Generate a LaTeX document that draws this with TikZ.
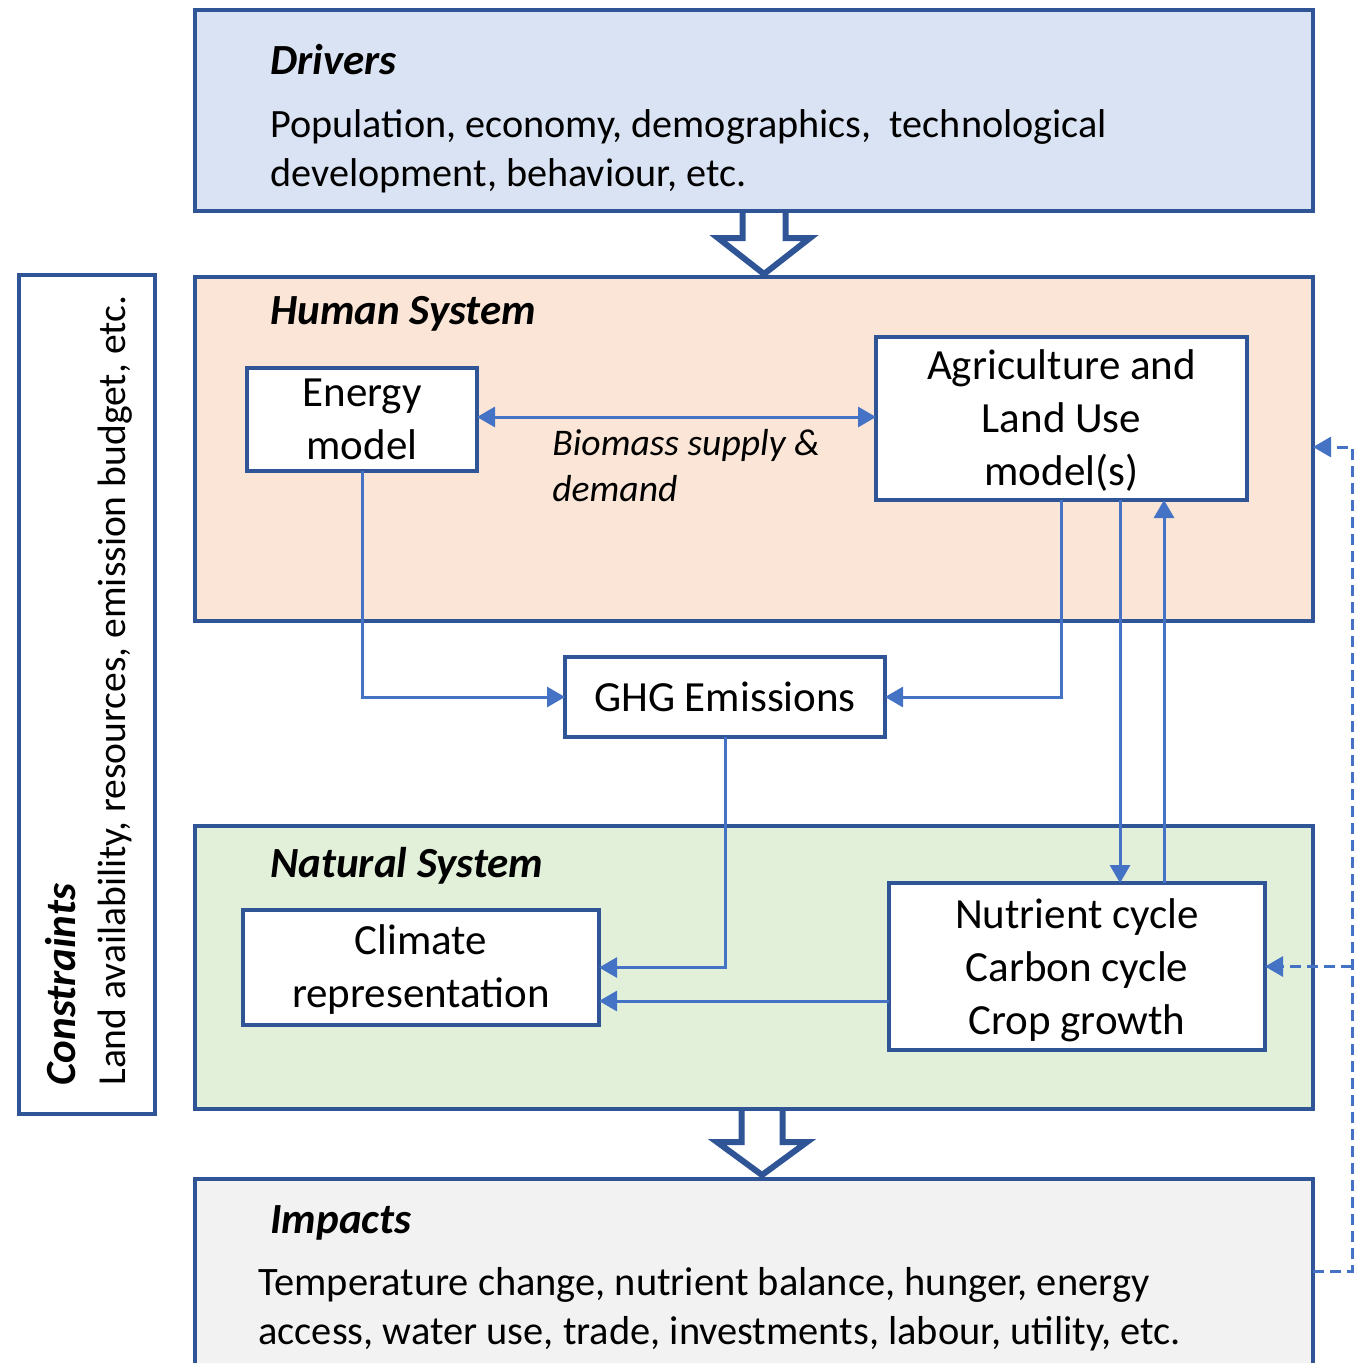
\documentclass[tikz,border=0pt]{standalone}
\usepackage{fontspec}
\setmainfont{Carlito}
\usetikzlibrary{arrows.meta}

\definecolor{frame}{HTML}{2F5597}
\definecolor{link}{HTML}{4472C4}
\definecolor{drvfill}{HTML}{DAE3F3}
\definecolor{humfill}{HTML}{FBE5D6}
\definecolor{natfill}{HTML}{E2F0D9}
\definecolor{impfill}{HTML}{F2F2F2}

% lower the text lines of a model box a little, keeping its size
\newcommand{\lowered}[2]{\raisebox{-#1}[\height][\depth]{\begin{tabular}{@{}c@{}}#2\end{tabular}}}

\begin{document}
\begin{tikzpicture}[x=0.5pt,y=-0.5pt,
  panel/.style={draw=frame, line width=2pt, anchor=north west, inner sep=0pt, outer sep=0pt},
  model/.style={draw=frame, line width=1.75pt, fill=white, align=center, inner sep=0pt, outer sep=0pt,
                font=\fontsize{21.5}{26.5}\selectfont},
  heading/.style={anchor=base west, inner sep=0pt, font=\fontsize{21.5}{26}\selectfont\bfseries\itshape},
  body/.style={anchor=base west, inner sep=0pt, align=left, font=\fontsize{20.2}{24.5}\selectfont},
  conn/.style={draw=link, line width=1.5pt, -{Triangle[length=9pt,width=10pt]}},
  feedback/.style={conn, dash pattern=on 5.5pt off 3pt},
  blockarrow/.style={draw=frame, fill=white, line width=3pt, line join=miter}
]
\clip (0,0) rectangle (1368,1362);

% system panels
\node[panel, fill=drvfill, minimum width=559pt, minimum height=100.5pt] (drivers) at (195,10) {};
\node[panel, fill=humfill, minimum width=559pt, minimum height=172pt] (human) at (195,277) {};
\node[panel, fill=natfill, minimum width=559pt, minimum height=141.5pt] (natural) at (195,826) {};
\node[panel, fill=impfill, minimum width=559pt, minimum height=130pt] (impacts) at (195,1179) {};
\node[panel, fill=white, minimum width=68pt, minimum height=419.5pt] (constraints) at (19,275) {};

% panel titles and texts (multi-line texts are placed by their last baseline)
\node[heading] (drvtitle) at (270,74) {Drivers};
\node[body, font=\fontsize{20.1}{24.5}\selectfont] (drvtext) at (270,186) {Population, economy, demographics,\ \ technological\\development, behaviour, etc.};
\node[heading] (humtitle) at (270,324) {Human System};
\node[heading] (nattitle) at (270,877) {Natural System};
\node[heading] (imptitle) at (270,1233) {Impacts};
\node[body] (imptext) at (258,1344) {Temperature change, nutrient balance, hunger, energy\\access, water use, trade, investments, labour, utility, etc.};
\node[heading, rotate=90] (contitle) at (75,1086) {Constraints};
\node[body, rotate=90, font=\fontsize{19.8}{24}\selectfont] (context) at (125,1086) {Land availability, resources, emission budget, etc.};

% block arrows between panels
\draw[blockarrow] (742.5,213) -- (742.5,238) -- (718,238) -- (764,274) -- (810,238) -- (785.5,238) -- (785.5,213);
\draw[blockarrow] (741.5,1111) -- (741.5,1142) -- (717,1142) -- (762,1175) -- (807,1142) -- (782.5,1142) -- (782.5,1111);

% model boxes
\node[model, minimum width=115pt, minimum height=51.5pt] (energy) at (362,419.5) {Energy\\model};
\node[model, minimum width=185.5pt, minimum height=81.5pt] (agri) at (1061.5,418.5) {\lowered{1.5pt}{Agriculture and\\Land Use\\model(s)}};
\node[model, minimum width=160pt, minimum height=40pt] (ghg) at (725,697) {GHG Emissions};
\node[model, minimum width=178pt, minimum height=57.5pt] (climate) at (421,967.5) {\lowered{1.5pt}{Climate\\representation}};
\node[model, minimum width=188pt, minimum height=83.5pt] (nutrient) at (1077,966.5) {\lowered{2pt}{Nutrient cycle\\Carbon cycle\\Crop growth}};

\node[body, font=\fontsize{18.8}{23}\selectfont\itshape] (biomass) at (552,501) {Biomass supply \&\\demand};

% helper rows and columns
\coordinate (biorow) at (0,417);
\coordinate (lowrow) at (0,1001);
\coordinate (downcol) at (1120,0);
\coordinate (upcol) at (1164,0);
\coordinate (fbrow) at (0,1271);
\coordinate (fbtoprow) at (0,447);
\coordinate (fbcol) at (1352,0);

% model links
\draw[conn, {Triangle[length=9pt,width=10pt]}-{Triangle[length=9pt,width=10pt]}]
  (energy.east |- biorow) -- (agri.west |- biorow);
\draw[conn] (energy.south) |- (ghg.west);
\draw[conn] (agri.south) |- (ghg.east);
\draw[conn] (ghg.south) |- (climate.east);
\draw[conn] (nutrient.west |- lowrow) -- (climate.east |- lowrow);
\draw[conn] (agri.south -| downcol) -- (nutrient.north -| downcol);
\draw[conn] (nutrient.north -| upcol) -- (agri.south -| upcol);

% feedback from impacts
\draw[feedback] (impacts.east |- fbrow) -| (fbcol |- fbtoprow) -- (human.east |- fbtoprow);
\draw[feedback] (fbcol |- nutrient.east) -- (nutrient.east);
\end{tikzpicture}
\end{document}
